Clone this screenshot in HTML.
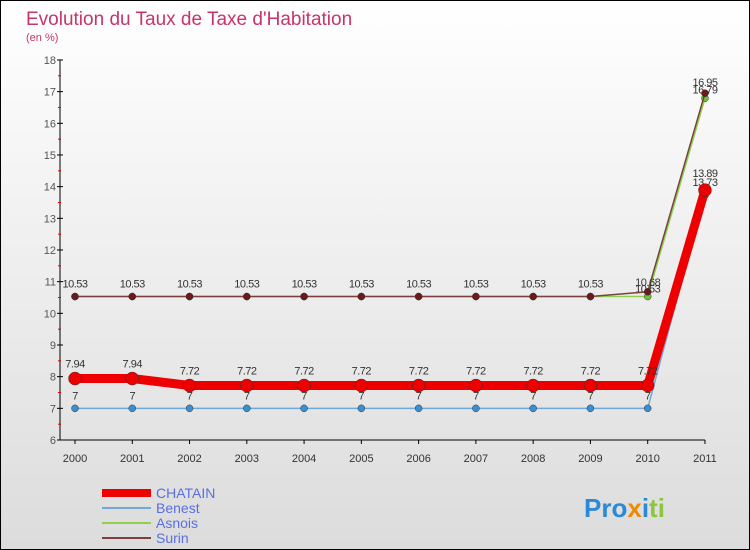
<!DOCTYPE html>
<html><head><meta charset="utf-8"><style>
body{margin:0;}
#wrap{width:748px;height:548px;border:1px solid #000;background:linear-gradient(#fff,#dcdcdc);position:relative;overflow:hidden;font-family:"Liberation Sans",sans-serif;}
</style></head><body>
<div id="wrap">
<svg id="chart" width="748" height="548">
<text x="25" y="24" font-size="19" fill="#c8346a">Evolution du Taux de Taxe d'Habitation</text>
<text x="25" y="40" font-size="11" fill="#c8346a">(en %)</text>
<g id="axes"></g><g id="series"></g><g id="legend"></g>
<text x="583" y="516" font-size="26" font-weight="bold"><tspan fill="#2a8ad8">Pro</tspan><tspan fill="#f08a00">x</tspan><tspan fill="#2a8ad8">i</tspan><tspan fill="#8cc63f">ti</tspan></text>
</svg></div>
<script>
const years=[2000,2001,2002,2003,2004,2005,2006,2007,2008,2009,2010,2011];
const yTicks=[6,7,8,9,10,11,12,13,14,15,16,17,18];
const chatain=[7.94,7.94,7.72,7.72,7.72,7.72,7.72,7.72,7.72,7.72,7.72,13.89];
const benest=[7,7,7,7,7,7,7,7,7,7,7,13.73];
const asnois=[10.53,10.53,10.53,10.53,10.53,10.53,10.53,10.53,10.53,10.53,10.53,16.79];
const surin=[10.53,10.53,10.53,10.53,10.53,10.53,10.53,10.53,10.53,10.53,10.68,16.95];
const NS="http://www.w3.org/2000/svg";
function X(i){return 74+i*57.27;}
function Y(v){return 439-(v-6)*31.67;}
function mk(t,a,p){const e=document.createElementNS(NS,t);for(const k in a)e.setAttribute(k,a[k]);p.appendChild(e);return e;}
const ax=document.getElementById('axes');
let l=mk('line',{x1:59,y1:Y(18),x2:59,y2:Y(6),stroke:'#000'},ax);


l=mk('line',{x1:59,y1:Y(6),x2:X(11),y2:Y(6),stroke:'#000'},ax);


yTicks.forEach(v=>{
 mk('line',{x1:56,y1:Y(v),x2:62,y2:Y(v),stroke:'#000'},ax);
 if(v<18)mk('line',{x1:57,y1:Y(v+0.5),x2:60,y2:Y(v+0.5),stroke:'#d00'},ax);
 const t=mk('text',{x:55,y:Y(v)+4,'font-size':11,fill:'#555','text-anchor':'end'},ax);t.textContent=v;
 
 
});
years.forEach((y,i)=>{
 mk('line',{x1:X(i),y1:Y(6),x2:X(i),y2:Y(6)+4,stroke:'#000'},ax);
 const t=mk('text',{x:X(i),y:Y(6)+22,'font-size':11,fill:'#333','text-anchor':'middle'},ax);t.textContent=y;
 
 
});
const sg=document.getElementById('series');
function draw(vals,color,w,r,dot,name,labels,lab,dy){
 const g=mk('g',{},sg);
 
 
 mk('polyline',{points:vals.map((v,i)=>X(i)+','+Y(v)).join(' '),fill:'none',stroke:color,'stroke-width':w},g);
 vals.forEach((v,i)=>{
  const c=mk('circle',{cx:X(i),cy:Y(v),r:r,fill:dot,stroke:'#333','stroke-width':0.5},g);
  
  
  if(labels&&labels[i]){const t=mk('text',{x:X(i),y:Y(v)+(dy?dy[i]:-9),'font-size':11,fill:'#333','text-anchor':'middle','letter-spacing':'-0.5'},g);t.textContent=vals[i];}
 });
}
const all=years.map(()=>1);
draw(benest,'#6fa8dc',1.5,3.5,'#3b8fd0','benest',all,null,null);
draw(asnois,'#8fd14f',1.5,3.5,'#6cc43a','asnois',[0,0,0,0,0,0,0,0,0,0,1,1],null,[0,0,0,0,0,0,0,0,0,0,-4,-5]);
draw(surin,'#7a4040',1.5,3.5,'#6b1a1a','surin',all,null,[-9,-9,-9,-9,-9,-9,-9,-9,-9,-9,-6,-7]);
draw(chatain,'#ee0000',9,6.5,'#ee0000','chatain',all,null,[-11,-11,-11,-11,-11,-11,-11,-11,-11,-11,-11,-13]);
const lg=document.getElementById('legend');
const items=[['CHATAIN','#ee0000',8],['Benest','#6fa8dc',2],['Asnois','#8fd14f',2],['Surin','#7a4040',2]];
items.forEach((it,i)=>{
 const g=mk('g',{},lg);
 
 
 const y=492+i*15;
 mk('line',{x1:101,y1:y,x2:150,y2:y,stroke:it[1],'stroke-width':it[2]},g);
 const t=mk('text',{x:155,y:y+5,'font-size':14,fill:'#5a6fe0'},g);t.textContent=it[0];
});
</script>
</body></html>
